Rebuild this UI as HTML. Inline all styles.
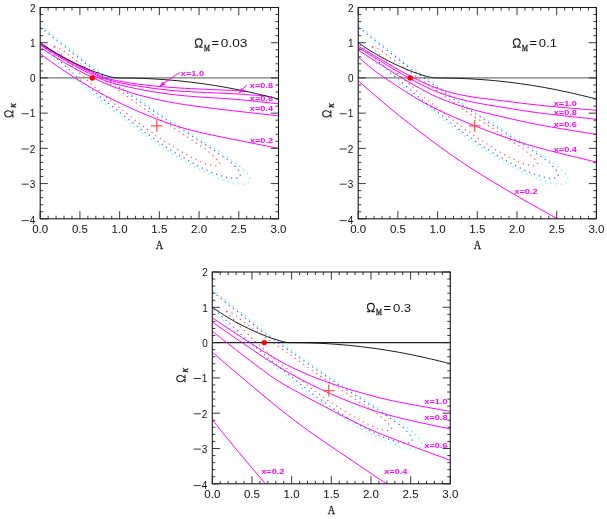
<!DOCTYPE html>
<html><head><meta charset="utf-8"><style>
html,body{margin:0;padding:0;background:#fff}
svg{display:block}
.t{font-family:"Liberation Sans",sans-serif;font-size:10px;fill:#111}
.s{font-family:"Liberation Serif",serif;fill:#111}
.m{font-family:"Liberation Sans",sans-serif;font-size:8.1px;font-weight:bold;fill:#ff00ff}
</style></head><body>
<svg style="will-change:transform" width="607" height="519" viewBox="0 0 607 519">
<rect width="607" height="519" fill="#fff"/>
<clipPath id="c0"><rect x="40.20" y="7.50" width="238.30" height="211.30"/></clipPath>
<g clip-path="url(#c0)">
<line x1="40.20" y1="77.93" x2="278.50" y2="77.93" stroke="#777" stroke-width="1.25"/>
<path d="M40.20 25.00 C41.58 26.10 45.77 29.38 48.50 31.60 C51.23 33.82 53.92 36.13 56.60 38.30 C59.28 40.47 61.88 42.43 64.60 44.60 C67.32 46.77 70.15 49.08 72.90 51.30 C75.65 53.52 78.38 55.77 81.10 57.90 C83.82 60.03 86.45 62.05 89.20 64.10 C91.95 66.15 95.52 68.68 97.60 70.20 C99.68 71.72 96.38 69.47 101.70 73.20 C107.02 76.93 120.23 86.13 129.50 92.60 C138.77 99.07 149.73 106.88 157.30 112.00 C164.87 117.12 169.03 119.55 174.90 123.30 C180.77 127.05 187.40 131.30 192.50 134.50 C197.60 137.70 201.87 140.20 205.50 142.50 C209.13 144.80 211.42 146.37 214.30 148.30 C217.18 150.23 219.97 152.15 222.80 154.10 C225.63 156.05 228.50 157.97 231.30 160.00 C234.10 162.03 237.55 164.65 239.60 166.30 C241.65 167.95 242.30 168.68 243.60 169.90 C244.90 171.12 246.35 172.25 247.40 173.60 C248.45 174.95 249.53 176.72 249.90 178.00 C250.27 179.28 250.02 180.43 249.60 181.30 C249.18 182.17 248.32 182.73 247.40 183.20 C246.48 183.67 245.40 183.95 244.10 184.10 C242.80 184.25 241.27 184.25 239.60 184.10 C237.93 183.95 235.85 183.53 234.10 183.20 C232.35 182.87 230.77 182.58 229.10 182.10 C227.43 181.62 225.70 180.88 224.10 180.30 C222.50 179.72 221.08 179.22 219.50 178.60 C217.92 177.98 216.18 177.30 214.60 176.60 C213.02 175.90 211.62 175.10 210.00 174.40 C208.38 173.70 206.48 173.15 204.90 172.40 C203.32 171.65 202.05 170.73 200.50 169.90 C198.95 169.07 197.17 168.23 195.60 167.40 C194.03 166.57 192.60 165.78 191.10 164.90 C189.60 164.02 188.07 162.98 186.60 162.10 C185.13 161.22 183.77 160.43 182.30 159.60 C180.83 158.77 179.30 157.97 177.80 157.10 C176.30 156.23 174.80 155.37 173.30 154.40 C171.80 153.43 170.27 152.27 168.80 151.30 C167.33 150.33 165.97 149.58 164.50 148.60 C163.03 147.62 161.45 146.37 160.00 145.40 C158.55 144.43 157.20 143.77 155.80 142.80 C154.40 141.83 153.02 140.63 151.60 139.60 C150.18 138.57 148.70 137.57 147.30 136.60 C145.90 135.63 144.58 134.77 143.20 133.80 C141.82 132.83 143.08 134.02 139.00 130.80 C134.92 127.58 125.47 119.93 118.70 114.50 C111.93 109.07 102.42 101.33 98.40 98.20 C94.38 95.07 95.90 96.75 94.60 95.70 C93.30 94.65 91.97 93.15 90.60 91.90 C89.23 90.65 87.73 89.37 86.40 88.20 C85.07 87.03 83.93 86.00 82.60 84.90 C81.27 83.80 79.73 82.72 78.40 81.60 C77.07 80.48 75.85 79.32 74.60 78.20 C73.35 77.08 72.18 76.00 70.90 74.90 C69.62 73.80 68.20 72.77 66.90 71.60 C65.60 70.43 64.98 69.70 63.10 67.90 C61.22 66.10 57.48 62.68 55.60 60.80 C53.72 58.92 53.03 57.85 51.80 56.60 C50.57 55.35 49.45 54.43 48.20 53.30 C46.95 52.17 45.63 50.98 44.30 49.80 C42.97 48.62 40.88 46.80 40.20 46.20" fill="none" stroke="#00ffff" stroke-width="1.15" stroke-dasharray="1.25 3.94" stroke-dashoffset="-0.3" stroke-opacity="0.82"/>
<path d="M40.20 27.20 C41.58 28.27 45.77 31.42 48.50 33.60 C51.23 35.78 53.92 38.18 56.60 40.30 C59.28 42.42 61.88 44.13 64.60 46.30 C67.32 48.47 70.15 51.08 72.90 53.30 C75.65 55.52 79.03 57.93 81.10 59.60 C83.17 61.27 83.25 61.72 85.30 63.30 C87.35 64.88 87.08 64.65 93.40 69.10 C99.72 73.55 113.25 83.05 123.20 90.00 C133.15 96.95 146.70 106.42 153.10 110.80 C159.50 115.18 158.73 114.35 161.60 116.30 C164.47 118.25 167.35 120.58 170.30 122.50 C173.25 124.42 176.37 126.00 179.30 127.80 C182.23 129.60 185.02 131.42 187.90 133.30 C190.78 135.18 193.68 137.22 196.60 139.10 C199.52 140.98 202.47 142.72 205.40 144.60 C208.33 146.48 212.02 148.90 214.20 150.40 C216.38 151.90 217.03 152.57 218.50 153.60 C219.97 154.63 221.52 155.60 223.00 156.60 C224.48 157.60 225.98 158.55 227.40 159.60 C228.82 160.65 230.25 161.78 231.50 162.90 C232.75 164.02 233.77 165.07 234.90 166.30 C236.03 167.53 237.42 168.92 238.30 170.30 C239.18 171.68 240.02 173.42 240.20 174.60 C240.38 175.78 240.37 176.78 239.40 177.40 C238.43 178.02 236.10 178.23 234.40 178.30 C232.70 178.37 230.92 178.08 229.20 177.80 C227.48 177.52 225.77 177.03 224.10 176.60 C222.43 176.17 220.80 175.72 219.20 175.20 C217.60 174.68 216.10 174.13 214.50 173.50 C212.90 172.87 211.22 172.12 209.60 171.40 C207.98 170.68 206.38 169.93 204.80 169.20 C203.22 168.47 201.65 167.80 200.10 167.00 C198.55 166.20 197.05 165.23 195.50 164.40 C193.95 163.57 192.32 162.83 190.80 162.00 C189.28 161.17 187.88 160.25 186.40 159.40 C184.92 158.55 183.40 157.73 181.90 156.90 C180.40 156.07 178.90 155.33 177.40 154.40 C175.90 153.47 174.37 152.27 172.90 151.30 C171.43 150.33 170.07 149.52 168.60 148.60 C167.13 147.68 165.53 146.77 164.10 145.80 C162.67 144.83 161.38 143.77 160.00 142.80 C158.62 141.83 157.22 141.03 155.80 140.00 C154.38 138.97 152.97 137.63 151.50 136.60 C150.03 135.57 148.45 134.77 147.00 133.80 C145.55 132.83 144.18 131.85 142.80 130.80 C141.42 129.75 142.75 130.75 138.70 127.50 C134.65 124.25 125.22 116.68 118.50 111.30 C111.78 105.92 103.05 99.05 98.40 95.20 C93.75 91.35 93.23 90.47 90.60 88.20 C87.97 85.93 84.63 83.27 82.60 81.60 C80.57 79.93 79.73 79.37 78.40 78.20 C77.07 77.03 75.85 75.70 74.60 74.60 C73.35 73.50 72.08 72.67 70.90 71.60 C69.72 70.53 68.70 69.37 67.50 68.20 C66.30 67.03 65.00 65.82 63.70 64.60 C62.40 63.38 61.00 62.12 59.70 60.90 C58.40 59.68 57.18 58.45 55.90 57.30 C54.62 56.15 53.32 55.18 52.00 54.00 C50.68 52.82 49.30 51.40 48.00 50.20 C46.70 49.00 45.50 47.87 44.20 46.80 C42.90 45.73 40.87 44.30 40.20 43.80" fill="none" stroke="#2222ff" stroke-width="1.15" stroke-dasharray="1.25 3.94" stroke-dashoffset="-0.3" stroke-opacity="0.82"/>
<path d="M54.30 46.30 C55.08 46.63 57.47 47.55 59.00 48.30 C60.53 49.05 62.07 49.83 63.50 50.80 C64.93 51.77 66.22 53.00 67.60 54.10 C68.98 55.20 70.42 56.37 71.80 57.40 C73.18 58.43 74.47 59.32 75.90 60.30 C77.33 61.28 78.95 62.25 80.40 63.30 C81.85 64.35 78.58 62.32 84.60 66.60 C90.62 70.88 105.88 81.55 116.50 89.00 C127.12 96.45 141.55 106.63 148.30 111.30 C155.05 115.97 154.12 115.13 157.00 117.00 C159.88 118.87 163.43 121.08 165.60 122.50 C167.77 123.92 168.55 124.53 170.00 125.50 C171.45 126.47 172.87 127.33 174.30 128.30 C175.73 129.27 177.10 130.27 178.60 131.30 C180.10 132.33 181.83 133.53 183.30 134.50 C184.77 135.47 185.97 136.18 187.40 137.10 C188.83 138.02 190.45 139.02 191.90 140.00 C193.35 140.98 194.65 142.03 196.10 143.00 C197.55 143.97 199.17 144.87 200.60 145.80 C202.03 146.73 203.32 147.58 204.70 148.60 C206.08 149.62 207.57 150.78 208.90 151.90 C210.23 153.02 211.43 154.15 212.70 155.30 C213.97 156.45 215.40 157.68 216.50 158.80 C217.60 159.92 218.83 161.03 219.30 162.00 C219.77 162.97 219.98 163.98 219.30 164.60 C218.62 165.22 216.72 165.65 215.20 165.70 C213.68 165.75 211.87 165.25 210.20 164.90 C208.53 164.55 206.83 164.15 205.20 163.60 C203.57 163.05 202.00 162.35 200.40 161.60 C198.80 160.85 197.22 159.88 195.60 159.10 C193.98 158.32 192.23 157.68 190.70 156.90 C189.17 156.12 187.87 155.23 186.40 154.40 C184.93 153.57 183.40 152.73 181.90 151.90 C180.40 151.07 178.90 150.33 177.40 149.40 C175.90 148.47 174.37 147.23 172.90 146.30 C171.43 145.37 170.03 144.67 168.60 143.80 C167.17 142.93 165.73 142.02 164.30 141.10 C162.87 140.18 161.45 139.23 160.00 138.30 C158.55 137.37 157.00 136.53 155.60 135.50 C154.20 134.47 152.98 133.10 151.60 132.10 C150.22 131.10 148.77 130.50 147.30 129.50 C145.83 128.50 144.23 127.18 142.80 126.10 C141.37 125.02 142.12 125.68 138.70 123.00 C135.28 120.32 127.77 114.35 122.30 110.00 C116.83 105.65 109.88 100.17 105.90 96.90 C101.92 93.63 100.28 92.07 98.40 90.40 C96.52 88.73 95.90 88.10 94.60 86.90 C93.30 85.70 91.92 84.37 90.60 83.20 C89.28 82.03 87.98 81.00 86.70 79.90 C85.42 78.80 84.13 77.77 82.90 76.60 C81.67 75.43 81.22 74.85 79.30 72.90 C77.38 70.95 73.90 67.45 71.40 64.90 C68.90 62.35 66.65 60.02 64.30 57.60 C61.95 55.18 58.92 52.03 57.30 50.40 C55.68 48.77 55.10 48.48 54.60 47.80 C54.10 47.12 54.35 46.55 54.30 46.30" fill="none" stroke="#ff2222" stroke-width="1.15" stroke-dasharray="1.25 3.94" stroke-dashoffset="-0.3" stroke-opacity="0.82"/>
<path d="M40.20 43.77 C42.85 45.36 50.39 50.02 56.09 53.28 C61.78 56.54 68.40 60.24 74.36 63.32 C80.31 66.40 85.89 69.14 91.83 71.77 C97.78 74.41 102.05 77.04 110.02 79.13 C117.99 81.23 129.66 82.98 139.65 84.34 C149.65 85.71 160.09 86.56 169.99 87.34 C179.90 88.12 188.26 88.49 199.07 89.03 C209.87 89.56 226.87 90.13 234.81 90.54 C242.75 90.95 244.74 91.33 246.73 91.49" fill="none" stroke="#ff00ff" stroke-width="1.0"/>
<path d="M40.20 44.20 C42.85 45.83 50.39 50.65 56.09 53.99 C61.78 57.32 68.40 61.06 74.36 64.20 C80.31 67.34 85.89 70.13 91.83 72.83 C97.78 75.53 102.05 78.14 110.02 80.40 C117.99 82.65 129.66 84.70 139.65 86.35 C149.65 88.00 160.09 89.32 169.99 90.29 C179.90 91.27 188.26 91.60 199.07 92.20 C209.87 92.79 223.56 93.22 234.81 93.85 C246.06 94.49 261.29 95.64 266.59 96.00" fill="none" stroke="#ff00ff" stroke-width="1.0"/>
<path d="M40.20 45.01 C42.85 46.68 50.39 51.61 56.09 55.04 C61.78 58.48 68.40 62.35 74.36 65.61 C80.31 68.87 85.89 71.79 91.83 74.59 C97.78 77.38 102.05 79.92 110.02 82.37 C117.99 84.82 129.66 87.33 139.65 89.31 C149.65 91.29 160.09 92.96 169.99 94.24 C179.90 95.51 188.26 96.12 199.07 96.95 C209.87 97.78 221.57 98.10 234.81 99.24 C248.05 100.38 271.22 103.03 278.50 103.78" fill="none" stroke="#ff00ff" stroke-width="1.0"/>
<path d="M40.20 47.29 C42.85 49.00 50.39 54.02 56.09 57.51 C61.78 61.00 68.40 64.96 74.36 68.25 C80.31 71.54 85.89 74.38 91.83 77.23 C97.78 80.08 102.05 82.33 110.02 85.33 C117.99 88.33 129.66 92.42 139.65 95.22 C149.65 98.02 160.09 100.23 169.99 102.13 C179.90 104.03 188.66 105.21 199.07 106.63 C209.47 108.06 219.19 109.15 232.43 110.68 C245.67 112.22 270.82 114.97 278.50 115.83" fill="none" stroke="#ff00ff" stroke-width="1.0"/>
<path d="M40.20 53.81 C42.85 55.72 50.39 61.29 56.09 65.26 C61.78 69.22 68.40 73.77 74.36 77.58 C80.31 81.40 85.89 84.71 91.83 88.15 C97.78 91.58 102.05 94.20 110.02 98.18 C117.99 102.16 129.66 107.74 139.65 112.02 C149.65 116.31 160.09 120.53 169.99 123.89 C179.90 127.25 187.73 129.44 199.07 132.17 C210.40 134.90 224.75 137.57 237.99 140.27 C251.23 142.97 271.75 147.02 278.50 148.37" fill="none" stroke="#ff00ff" stroke-width="1.0"/>
<path d="M40.20 42.72 C41.52 43.61 45.50 46.35 48.14 48.07 C50.79 49.79 53.13 51.29 56.09 53.04 C59.04 54.78 61.89 56.48 65.86 58.56 C69.83 60.65 75.72 63.57 79.92 65.54 C84.11 67.50 87.73 69.01 91.04 70.36 C94.35 71.71 96.99 72.68 99.78 73.64 C102.56 74.59 105.47 75.46 107.72 76.10 C109.97 76.75 111.69 77.21 113.28 77.51 C114.87 77.82 115.53 77.85 117.25 77.93 C118.97 78.02 120.56 77.96 123.61 78.00 C126.65 78.05 130.75 78.07 135.52 78.22 C140.29 78.36 145.32 78.44 152.20 78.85 C159.09 79.25 168.48 79.85 176.83 80.65 C185.17 81.44 193.90 82.49 202.24 83.64 C210.58 84.79 218.53 86.03 226.87 87.55 C235.21 89.06 243.68 90.82 252.29 92.72 C260.89 94.63 274.13 97.92 278.50 98.96" fill="none" stroke="#111" stroke-width="0.95"/>
</g>
<circle cx="92.23" cy="77.93" r="2.7" fill="#ff0000"/>
<path d="M151.01 125.83H162.61M156.81 120.03V131.63" stroke="#ff5050" stroke-width="1.25" fill="none"/>
<path d="M40.20 218.80V211.20M40.20 7.50V15.10M48.14 218.80V215.80M48.14 7.50V10.50M56.09 218.80V215.80M56.09 7.50V10.50M64.03 218.80V215.80M64.03 7.50V10.50M71.97 218.80V215.80M71.97 7.50V10.50M79.92 218.80V211.20M79.92 7.50V15.10M87.86 218.80V215.80M87.86 7.50V10.50M95.80 218.80V215.80M95.80 7.50V10.50M103.75 218.80V215.80M103.75 7.50V10.50M111.69 218.80V215.80M111.69 7.50V10.50M119.63 218.80V211.20M119.63 7.50V15.10M127.58 218.80V215.80M127.58 7.50V10.50M135.52 218.80V215.80M135.52 7.50V10.50M143.46 218.80V215.80M143.46 7.50V10.50M151.41 218.80V215.80M151.41 7.50V10.50M159.35 218.80V211.20M159.35 7.50V15.10M167.29 218.80V215.80M167.29 7.50V10.50M175.24 218.80V215.80M175.24 7.50V10.50M183.18 218.80V215.80M183.18 7.50V10.50M191.12 218.80V215.80M191.12 7.50V10.50M199.07 218.80V211.20M199.07 7.50V15.10M207.01 218.80V215.80M207.01 7.50V10.50M214.95 218.80V215.80M214.95 7.50V10.50M222.90 218.80V215.80M222.90 7.50V10.50M230.84 218.80V215.80M230.84 7.50V10.50M238.78 218.80V211.20M238.78 7.50V15.10M246.73 218.80V215.80M246.73 7.50V10.50M254.67 218.80V215.80M254.67 7.50V10.50M262.61 218.80V215.80M262.61 7.50V10.50M270.56 218.80V215.80M270.56 7.50V10.50M278.50 218.80V211.20M278.50 7.50V15.10M40.20 218.80H47.80M278.50 218.80H270.90M40.20 211.76H43.20M278.50 211.76H275.50M40.20 204.71H43.20M278.50 204.71H275.50M40.20 197.67H43.20M278.50 197.67H275.50M40.20 190.63H43.20M278.50 190.63H275.50M40.20 183.58H47.80M278.50 183.58H270.90M40.20 176.54H43.20M278.50 176.54H275.50M40.20 169.50H43.20M278.50 169.50H275.50M40.20 162.45H43.20M278.50 162.45H275.50M40.20 155.41H43.20M278.50 155.41H275.50M40.20 148.37H47.80M278.50 148.37H270.90M40.20 141.32H43.20M278.50 141.32H275.50M40.20 134.28H43.20M278.50 134.28H275.50M40.20 127.24H43.20M278.50 127.24H275.50M40.20 120.19H43.20M278.50 120.19H275.50M40.20 113.15H47.80M278.50 113.15H270.90M40.20 106.11H43.20M278.50 106.11H275.50M40.20 99.06H43.20M278.50 99.06H275.50M40.20 92.02H43.20M278.50 92.02H275.50M40.20 84.98H43.20M278.50 84.98H275.50M40.20 77.93H47.80M278.50 77.93H270.90M40.20 70.89H43.20M278.50 70.89H275.50M40.20 63.85H43.20M278.50 63.85H275.50M40.20 56.80H43.20M278.50 56.80H275.50M40.20 49.76H43.20M278.50 49.76H275.50M40.20 42.72H47.80M278.50 42.72H270.90M40.20 35.67H43.20M278.50 35.67H275.50M40.20 28.63H43.20M278.50 28.63H275.50M40.20 21.59H43.20M278.50 21.59H275.50M40.20 14.54H43.20M278.50 14.54H275.50M40.20 7.50H47.80M278.50 7.50H270.90" stroke="#222" stroke-width="0.9" fill="none"/>
<rect x="40.20" y="7.50" width="238.30" height="211.30" fill="none" stroke="#1a1a1a" stroke-width="1.1"/>
<text x="40.20" y="232.70" text-anchor="middle" class="t" textLength="16" lengthAdjust="spacingAndGlyphs">0.0</text>
<text x="79.92" y="232.70" text-anchor="middle" class="t" textLength="16" lengthAdjust="spacingAndGlyphs">0.5</text>
<text x="119.63" y="232.70" text-anchor="middle" class="t" textLength="16" lengthAdjust="spacingAndGlyphs">1.0</text>
<text x="159.35" y="232.70" text-anchor="middle" class="t" textLength="16" lengthAdjust="spacingAndGlyphs">1.5</text>
<text x="199.07" y="232.70" text-anchor="middle" class="t" textLength="16" lengthAdjust="spacingAndGlyphs">2.0</text>
<text x="238.78" y="232.70" text-anchor="middle" class="t" textLength="16" lengthAdjust="spacingAndGlyphs">2.5</text>
<text x="278.50" y="232.70" text-anchor="middle" class="t" textLength="16" lengthAdjust="spacingAndGlyphs">3.0</text>
<text x="35.20" y="224.30" text-anchor="end" class="t">4</text>
<path d="M21.60 220.60H28.80" stroke="#222" stroke-width="0.9"/>
<text x="35.20" y="187.88" text-anchor="end" class="t">3</text>
<path d="M21.60 184.18H28.80" stroke="#222" stroke-width="0.9"/>
<text x="35.20" y="152.67" text-anchor="end" class="t">2</text>
<path d="M21.60 148.97H28.80" stroke="#222" stroke-width="0.9"/>
<text x="35.20" y="117.45" text-anchor="end" class="t">1</text>
<path d="M21.60 113.75H28.80" stroke="#222" stroke-width="0.9"/>
<text x="35.60" y="82.23" text-anchor="end" class="t">0</text>
<text x="35.60" y="47.02" text-anchor="end" class="t">1</text>
<text x="35.60" y="11.80" text-anchor="end" class="t">2</text>
<text x="159.55" y="248.60" text-anchor="middle" class="s" font-size="12.6" textLength="7.4" lengthAdjust="spacingAndGlyphs" stroke="#1a1a1a" stroke-width="0.3">A</text>
<g transform="translate(13.20 117.55) rotate(-90)"><path d="M0.30 -0.46L0.30 -0.30L2.82 -0.30L2.82 -1.04C1.18 -2.02 0.57 -3.42 0.57 -4.97C0.57 -7.11 1.93 -8.50 3.70 -8.50C5.47 -8.50 6.83 -7.11 6.83 -4.97C6.83 -3.42 6.22 -2.02 4.58 -1.04L4.58 -0.30L7.10 -0.30L7.10 -0.46" fill="none" stroke="#1a1a1a" stroke-width="1.15" stroke-linejoin="round"/><text x="9.9" y="3.0" class="s" font-size="9.5" font-style="italic" stroke="#1a1a1a" stroke-width="0.3">κ</text></g>
<path d="M195.10 46.94L195.10 47.10L197.80 47.10L197.80 46.36C196.05 45.38 195.39 43.98 195.39 42.43C195.39 40.29 196.85 38.90 198.75 38.90C200.65 38.90 202.11 40.29 202.11 42.43C202.11 43.98 201.45 45.38 199.70 46.36L199.70 47.10L202.40 47.10L202.40 46.94" fill="none" stroke="#1a1a1a" stroke-width="1.15" stroke-linejoin="round"/>
<text x="204.00" y="50.60" class="s" font-size="9.2" textLength="5.9" lengthAdjust="spacingAndGlyphs" stroke="#1a1a1a" stroke-width="0.35">M</text>
<text x="211.50" y="47.40" class="t" font-size="12.2" textLength="7.6" lengthAdjust="spacingAndGlyphs">=</text>
<text x="220.80" y="47.40" class="t" font-size="12.2" textLength="26.6" lengthAdjust="spacingAndGlyphs">0.03</text>
<text x="180.80" y="75.50" class="m" textLength="23.2" lengthAdjust="spacingAndGlyphs">x=1.0</text>
<text x="249.80" y="88.30" class="m" textLength="23.2" lengthAdjust="spacingAndGlyphs">x=0.8</text>
<text x="249.80" y="101.20" class="m" textLength="23.2" lengthAdjust="spacingAndGlyphs">x=0.6</text>
<text x="249.80" y="111.00" class="m" textLength="23.2" lengthAdjust="spacingAndGlyphs">x=0.4</text>
<text x="249.90" y="143.00" class="m" textLength="23.2" lengthAdjust="spacingAndGlyphs">x=0.2</text>
<path d="M179.50 72.50L159.50 86.30" stroke="#ff00ff" stroke-width="1"/>
<path d="M159.50 86.30L162.89 81.53L165.16 84.82Z" fill="#ff00ff"/>
<path d="M246.80 84.90L238.90 93.30" stroke="#ff00ff" stroke-width="1"/>
<path d="M238.90 93.30L241.21 87.92L244.12 90.66Z" fill="#ff00ff"/>
<clipPath id="c1"><rect x="358.20" y="7.50" width="238.20" height="211.30"/></clipPath>
<g clip-path="url(#c1)">
<line x1="358.20" y1="77.93" x2="596.40" y2="77.93" stroke="#777" stroke-width="1.25"/>
<path d="M358.20 25.00 C359.58 26.10 363.76 29.38 366.50 31.60 C369.23 33.82 371.91 36.13 374.59 38.30 C377.28 40.47 379.87 42.43 382.59 44.60 C385.31 46.77 388.14 49.08 390.89 51.30 C393.64 53.52 396.37 55.77 399.08 57.90 C401.80 60.03 404.43 62.05 407.18 64.10 C409.93 66.15 413.49 68.68 415.58 70.20 C417.66 71.72 414.36 69.47 419.67 73.20 C424.99 76.93 438.20 86.13 447.46 92.60 C456.73 99.07 467.69 106.88 475.25 112.00 C482.81 117.12 486.98 119.55 492.84 123.30 C498.71 127.05 505.34 131.30 510.44 134.50 C515.53 137.70 519.80 140.20 523.43 142.50 C527.06 144.80 529.34 146.37 532.23 148.30 C535.11 150.23 537.89 152.15 540.72 154.10 C543.56 156.05 546.42 157.97 549.22 160.00 C552.02 162.03 555.47 164.65 557.52 166.30 C559.57 167.95 560.22 168.68 561.51 169.90 C562.81 171.12 564.26 172.25 565.31 173.60 C566.36 174.95 567.45 176.72 567.81 178.00 C568.18 179.28 567.93 180.43 567.51 181.30 C567.10 182.17 566.23 182.73 565.31 183.20 C564.40 183.67 563.31 183.95 562.01 184.10 C560.71 184.25 559.18 184.25 557.52 184.10 C555.85 183.95 553.77 183.53 552.02 183.20 C550.27 182.87 548.69 182.58 547.02 182.10 C545.35 181.62 543.62 180.88 542.02 180.30 C540.42 179.72 539.01 179.22 537.42 178.60 C535.84 177.98 534.11 177.30 532.53 176.60 C530.94 175.90 529.54 175.10 527.93 174.40 C526.31 173.70 524.41 173.15 522.83 172.40 C521.25 171.65 519.98 170.73 518.43 169.90 C516.88 169.07 515.10 168.23 513.53 167.40 C511.97 166.57 510.54 165.78 509.04 164.90 C507.54 164.02 506.00 162.98 504.54 162.10 C503.07 161.22 501.71 160.43 500.24 159.60 C498.77 158.77 497.24 157.97 495.74 157.10 C494.24 156.23 492.74 155.37 491.24 154.40 C489.74 153.43 488.21 152.27 486.75 151.30 C485.28 150.33 483.91 149.58 482.45 148.60 C480.98 147.62 479.40 146.37 477.95 145.40 C476.50 144.43 475.15 143.77 473.75 142.80 C472.35 141.83 470.97 140.63 469.55 139.60 C468.14 138.57 466.65 137.57 465.26 136.60 C463.86 135.63 462.54 134.77 461.16 133.80 C459.77 132.83 461.04 134.02 456.96 130.80 C452.88 127.58 443.43 119.93 436.67 114.50 C429.90 109.07 420.39 101.33 416.38 98.20 C412.36 95.07 413.88 96.75 412.58 95.70 C411.28 94.65 409.94 93.15 408.58 91.90 C407.21 90.65 405.71 89.37 404.38 88.20 C403.05 87.03 401.91 86.00 400.58 84.90 C399.25 83.80 397.72 82.72 396.38 81.60 C395.05 80.48 393.84 79.32 392.59 78.20 C391.34 77.08 390.17 76.00 388.89 74.90 C387.60 73.80 386.19 72.77 384.89 71.60 C383.59 70.43 382.97 69.70 381.09 67.90 C379.21 66.10 375.48 62.68 373.59 60.80 C371.71 58.92 371.03 57.85 369.80 56.60 C368.56 55.35 367.45 54.43 366.20 53.30 C364.95 52.17 363.63 50.98 362.30 49.80 C360.97 48.62 358.88 46.80 358.20 46.20" fill="none" stroke="#00ffff" stroke-width="1.15" stroke-dasharray="1.25 3.94" stroke-dashoffset="-0.3" stroke-opacity="0.82"/>
<path d="M358.20 27.20 C359.58 28.27 363.76 31.42 366.50 33.60 C369.23 35.78 371.91 38.18 374.59 40.30 C377.28 42.42 379.87 44.13 382.59 46.30 C385.31 48.47 388.14 51.08 390.89 53.30 C393.64 55.52 397.02 57.93 399.08 59.60 C401.15 61.27 401.23 61.72 403.28 63.30 C405.33 64.88 405.06 64.65 411.38 69.10 C417.69 73.55 431.22 83.05 441.17 90.00 C451.11 96.95 464.66 106.42 471.05 110.80 C477.45 115.18 476.68 114.35 479.55 116.30 C482.41 118.25 485.30 120.58 488.25 122.50 C491.19 124.42 494.31 126.00 497.24 127.80 C500.17 129.60 502.96 131.42 505.84 133.30 C508.72 135.18 511.62 137.22 514.53 139.10 C517.45 140.98 520.40 142.72 523.33 144.60 C526.26 146.48 529.94 148.90 532.13 150.40 C534.31 151.90 534.96 152.57 536.43 153.60 C537.89 154.63 539.44 155.60 540.92 156.60 C542.41 157.60 543.91 158.55 545.32 159.60 C546.74 160.65 548.17 161.78 549.42 162.90 C550.67 164.02 551.69 165.07 552.82 166.30 C553.95 167.53 555.33 168.92 556.22 170.30 C557.10 171.68 557.93 173.42 558.12 174.60 C558.30 175.78 558.28 176.78 557.32 177.40 C556.35 178.02 554.02 178.23 552.32 178.30 C550.62 178.37 548.84 178.08 547.12 177.80 C545.40 177.52 543.69 177.03 542.02 176.60 C540.36 176.17 538.72 175.72 537.12 175.20 C535.53 174.68 534.03 174.13 532.43 173.50 C530.83 172.87 529.14 172.12 527.53 171.40 C525.91 170.68 524.31 169.93 522.73 169.20 C521.15 168.47 519.58 167.80 518.03 167.00 C516.48 166.20 514.98 165.23 513.43 164.40 C511.89 163.57 510.25 162.83 508.74 162.00 C507.22 161.17 505.82 160.25 504.34 159.40 C502.86 158.55 501.34 157.73 499.84 156.90 C498.34 156.07 496.84 155.33 495.34 154.40 C493.84 153.47 492.31 152.27 490.84 151.30 C489.38 150.33 488.01 149.52 486.55 148.60 C485.08 147.68 483.48 146.77 482.05 145.80 C480.62 144.83 479.33 143.77 477.95 142.80 C476.57 141.83 475.17 141.03 473.75 140.00 C472.34 138.97 470.92 137.63 469.45 136.60 C467.99 135.57 466.40 134.77 464.96 133.80 C463.51 132.83 462.14 131.85 460.76 130.80 C459.37 129.75 460.71 130.75 456.66 127.50 C452.61 124.25 443.18 116.68 436.47 111.30 C429.75 105.92 421.02 99.05 416.38 95.20 C411.73 91.35 411.21 90.47 408.58 88.20 C405.95 85.93 402.61 83.27 400.58 81.60 C398.55 79.93 397.72 79.37 396.38 78.20 C395.05 77.03 393.84 75.70 392.59 74.60 C391.34 73.50 390.07 72.67 388.89 71.60 C387.70 70.53 386.69 69.37 385.49 68.20 C384.29 67.03 382.99 65.82 381.69 64.60 C380.39 63.38 378.99 62.12 377.69 60.90 C376.39 59.68 375.18 58.45 373.89 57.30 C372.61 56.15 371.31 55.18 370.00 54.00 C368.68 52.82 367.30 51.40 366.00 50.20 C364.70 49.00 363.50 47.87 362.20 46.80 C360.90 45.73 358.87 44.30 358.20 43.80" fill="none" stroke="#2222ff" stroke-width="1.15" stroke-dasharray="1.25 3.94" stroke-dashoffset="-0.3" stroke-opacity="0.82"/>
<path d="M372.29 46.30 C373.08 46.63 375.46 47.55 376.99 48.30 C378.52 49.05 380.06 49.83 381.49 50.80 C382.92 51.77 384.21 53.00 385.59 54.10 C386.97 55.20 388.40 56.37 389.79 57.40 C391.17 58.43 392.45 59.32 393.89 60.30 C395.32 61.28 396.93 62.25 398.38 63.30 C399.83 64.35 396.57 62.32 402.58 66.60 C408.60 70.88 423.86 81.55 434.47 89.00 C445.08 96.45 459.51 106.63 466.25 111.30 C473.00 115.97 472.07 115.13 474.95 117.00 C477.83 118.87 481.38 121.08 483.55 122.50 C485.71 123.92 486.50 124.53 487.95 125.50 C489.39 126.47 490.81 127.33 492.24 128.30 C493.68 129.27 495.04 130.27 496.54 131.30 C498.04 132.33 499.77 133.53 501.24 134.50 C502.71 135.47 503.91 136.18 505.34 137.10 C506.77 138.02 508.39 139.02 509.84 140.00 C511.29 140.98 512.59 142.03 514.03 143.00 C515.48 143.97 517.10 144.87 518.53 145.80 C519.97 146.73 521.25 147.58 522.63 148.60 C524.01 149.62 525.50 150.78 526.83 151.90 C528.16 153.02 529.36 154.15 530.63 155.30 C531.89 156.45 533.33 157.68 534.43 158.80 C535.53 159.92 536.76 161.03 537.22 162.00 C537.69 162.97 537.91 163.98 537.22 164.60 C536.54 165.22 534.64 165.65 533.13 165.70 C531.61 165.75 529.79 165.25 528.13 164.90 C526.46 164.55 524.76 164.15 523.13 163.60 C521.50 163.05 519.93 162.35 518.33 161.60 C516.73 160.85 515.15 159.88 513.53 159.10 C511.92 158.32 510.17 157.68 508.64 156.90 C507.10 156.12 505.80 155.23 504.34 154.40 C502.87 153.57 501.34 152.73 499.84 151.90 C498.34 151.07 496.84 150.33 495.34 149.40 C493.84 148.47 492.31 147.23 490.84 146.30 C489.38 145.37 487.98 144.67 486.55 143.80 C485.11 142.93 483.68 142.02 482.25 141.10 C480.82 140.18 479.40 139.23 477.95 138.30 C476.50 137.37 474.95 136.53 473.55 135.50 C472.15 134.47 470.94 133.10 469.55 132.10 C468.17 131.10 466.72 130.50 465.26 129.50 C463.79 128.50 462.19 127.18 460.76 126.10 C459.32 125.02 460.07 125.68 456.66 123.00 C453.24 120.32 445.73 114.35 440.27 110.00 C434.80 105.65 427.85 100.17 423.87 96.90 C419.89 93.63 418.26 92.07 416.38 90.40 C414.49 88.73 413.88 88.10 412.58 86.90 C411.28 85.70 409.89 84.37 408.58 83.20 C407.26 82.03 405.96 81.00 404.68 79.90 C403.40 78.80 402.11 77.77 400.88 76.60 C399.65 75.43 399.20 74.85 397.28 72.90 C395.37 70.95 391.89 67.45 389.39 64.90 C386.89 62.35 384.64 60.02 382.29 57.60 C379.94 55.18 376.91 52.03 375.29 50.40 C373.68 48.77 373.09 48.48 372.59 47.80 C372.09 47.12 372.34 46.55 372.29 46.30" fill="none" stroke="#ff2222" stroke-width="1.15" stroke-dasharray="1.25 3.94" stroke-dashoffset="-0.3" stroke-opacity="0.82"/>
<path d="M358.20 46.24 C371.43 53.28 411.13 79.11 437.60 88.50 C464.07 97.89 490.53 98.95 517.00 102.59 C543.47 106.22 583.17 109.04 596.40 110.33" fill="none" stroke="#ff00ff" stroke-width="1.0"/>
<path d="M358.20 47.65 C371.43 55.04 411.13 81.69 437.60 92.02 C464.07 102.35 490.53 105.08 517.00 109.63 C543.47 114.18 583.17 117.70 596.40 119.31" fill="none" stroke="#ff00ff" stroke-width="1.0"/>
<path d="M358.20 50.29 C371.43 58.12 411.13 85.65 437.60 97.30 C464.07 108.95 490.53 114.00 517.00 120.19 C543.47 126.39 583.17 132.08 596.40 134.46" fill="none" stroke="#ff00ff" stroke-width="1.0"/>
<path d="M358.20 57.16 C362.63 60.62 371.57 69.19 384.80 77.93 C398.03 86.68 415.57 99.06 437.60 109.63 C459.63 120.19 490.53 132.58 517.00 141.32 C543.47 150.07 583.17 158.64 596.40 162.10" fill="none" stroke="#ff00ff" stroke-width="1.0"/>
<path d="M358.20 80.79 C365.12 86.66 383.59 103.25 399.73 116.04 C415.86 128.83 437.23 145.23 454.99 157.52 C472.75 169.81 489.20 179.57 506.28 189.78 C523.37 199.99 542.47 210.44 557.49 218.80 C572.51 227.16 589.92 236.41 596.40 239.93" fill="none" stroke="#ff00ff" stroke-width="1.0"/>
<path d="M358.20 42.72 C359.52 43.61 363.49 46.35 366.14 48.07 C368.79 49.79 371.13 51.29 374.08 53.04 C377.03 54.78 379.88 56.48 383.85 58.56 C387.82 60.65 393.71 63.57 397.90 65.54 C402.09 67.50 405.71 69.01 409.02 70.36 C412.32 71.71 414.97 72.68 417.75 73.64 C420.53 74.59 423.44 75.46 425.69 76.10 C427.94 76.75 429.66 77.21 431.25 77.51 C432.84 77.82 433.50 77.85 435.22 77.93 C436.94 78.02 438.53 77.96 441.57 78.00 C444.61 78.05 448.72 78.07 453.48 78.22 C458.24 78.36 463.27 78.44 470.15 78.85 C477.04 79.25 486.43 79.85 494.77 80.65 C503.10 81.44 511.84 82.49 520.18 83.64 C528.51 84.79 536.45 86.03 544.79 87.55 C553.13 89.06 561.60 90.82 570.20 92.72 C578.80 94.63 592.03 97.92 596.40 98.96" fill="none" stroke="#111" stroke-width="0.95"/>
</g>
<circle cx="410.21" cy="77.93" r="2.7" fill="#ff0000"/>
<path d="M468.96 125.83H480.56M474.76 120.03V131.63" stroke="#ff5050" stroke-width="1.25" fill="none"/>
<path d="M358.20 218.80V211.20M358.20 7.50V15.10M366.14 218.80V215.80M366.14 7.50V10.50M374.08 218.80V215.80M374.08 7.50V10.50M382.02 218.80V215.80M382.02 7.50V10.50M389.96 218.80V215.80M389.96 7.50V10.50M397.90 218.80V211.20M397.90 7.50V15.10M405.84 218.80V215.80M405.84 7.50V10.50M413.78 218.80V215.80M413.78 7.50V10.50M421.72 218.80V215.80M421.72 7.50V10.50M429.66 218.80V215.80M429.66 7.50V10.50M437.60 218.80V211.20M437.60 7.50V15.10M445.54 218.80V215.80M445.54 7.50V10.50M453.48 218.80V215.80M453.48 7.50V10.50M461.42 218.80V215.80M461.42 7.50V10.50M469.36 218.80V215.80M469.36 7.50V10.50M477.30 218.80V211.20M477.30 7.50V15.10M485.24 218.80V215.80M485.24 7.50V10.50M493.18 218.80V215.80M493.18 7.50V10.50M501.12 218.80V215.80M501.12 7.50V10.50M509.06 218.80V215.80M509.06 7.50V10.50M517.00 218.80V211.20M517.00 7.50V15.10M524.94 218.80V215.80M524.94 7.50V10.50M532.88 218.80V215.80M532.88 7.50V10.50M540.82 218.80V215.80M540.82 7.50V10.50M548.76 218.80V215.80M548.76 7.50V10.50M556.70 218.80V211.20M556.70 7.50V15.10M564.64 218.80V215.80M564.64 7.50V10.50M572.58 218.80V215.80M572.58 7.50V10.50M580.52 218.80V215.80M580.52 7.50V10.50M588.46 218.80V215.80M588.46 7.50V10.50M596.40 218.80V211.20M596.40 7.50V15.10M358.20 218.80H365.80M596.40 218.80H588.80M358.20 211.76H361.20M596.40 211.76H593.40M358.20 204.71H361.20M596.40 204.71H593.40M358.20 197.67H361.20M596.40 197.67H593.40M358.20 190.63H361.20M596.40 190.63H593.40M358.20 183.58H365.80M596.40 183.58H588.80M358.20 176.54H361.20M596.40 176.54H593.40M358.20 169.50H361.20M596.40 169.50H593.40M358.20 162.45H361.20M596.40 162.45H593.40M358.20 155.41H361.20M596.40 155.41H593.40M358.20 148.37H365.80M596.40 148.37H588.80M358.20 141.32H361.20M596.40 141.32H593.40M358.20 134.28H361.20M596.40 134.28H593.40M358.20 127.24H361.20M596.40 127.24H593.40M358.20 120.19H361.20M596.40 120.19H593.40M358.20 113.15H365.80M596.40 113.15H588.80M358.20 106.11H361.20M596.40 106.11H593.40M358.20 99.06H361.20M596.40 99.06H593.40M358.20 92.02H361.20M596.40 92.02H593.40M358.20 84.98H361.20M596.40 84.98H593.40M358.20 77.93H365.80M596.40 77.93H588.80M358.20 70.89H361.20M596.40 70.89H593.40M358.20 63.85H361.20M596.40 63.85H593.40M358.20 56.80H361.20M596.40 56.80H593.40M358.20 49.76H361.20M596.40 49.76H593.40M358.20 42.72H365.80M596.40 42.72H588.80M358.20 35.67H361.20M596.40 35.67H593.40M358.20 28.63H361.20M596.40 28.63H593.40M358.20 21.59H361.20M596.40 21.59H593.40M358.20 14.54H361.20M596.40 14.54H593.40M358.20 7.50H365.80M596.40 7.50H588.80" stroke="#222" stroke-width="0.9" fill="none"/>
<rect x="358.20" y="7.50" width="238.20" height="211.30" fill="none" stroke="#1a1a1a" stroke-width="1.1"/>
<text x="358.20" y="232.70" text-anchor="middle" class="t" textLength="16" lengthAdjust="spacingAndGlyphs">0.0</text>
<text x="397.90" y="232.70" text-anchor="middle" class="t" textLength="16" lengthAdjust="spacingAndGlyphs">0.5</text>
<text x="437.60" y="232.70" text-anchor="middle" class="t" textLength="16" lengthAdjust="spacingAndGlyphs">1.0</text>
<text x="477.30" y="232.70" text-anchor="middle" class="t" textLength="16" lengthAdjust="spacingAndGlyphs">1.5</text>
<text x="517.00" y="232.70" text-anchor="middle" class="t" textLength="16" lengthAdjust="spacingAndGlyphs">2.0</text>
<text x="556.70" y="232.70" text-anchor="middle" class="t" textLength="16" lengthAdjust="spacingAndGlyphs">2.5</text>
<text x="596.40" y="232.70" text-anchor="middle" class="t" textLength="16" lengthAdjust="spacingAndGlyphs">3.0</text>
<text x="353.20" y="224.30" text-anchor="end" class="t">4</text>
<path d="M339.60 220.60H346.80" stroke="#222" stroke-width="0.9"/>
<text x="353.20" y="187.88" text-anchor="end" class="t">3</text>
<path d="M339.60 184.18H346.80" stroke="#222" stroke-width="0.9"/>
<text x="353.20" y="152.67" text-anchor="end" class="t">2</text>
<path d="M339.60 148.97H346.80" stroke="#222" stroke-width="0.9"/>
<text x="353.20" y="117.45" text-anchor="end" class="t">1</text>
<path d="M339.60 113.75H346.80" stroke="#222" stroke-width="0.9"/>
<text x="353.60" y="82.23" text-anchor="end" class="t">0</text>
<text x="353.60" y="47.02" text-anchor="end" class="t">1</text>
<text x="353.60" y="11.80" text-anchor="end" class="t">2</text>
<text x="477.50" y="248.60" text-anchor="middle" class="s" font-size="12.6" textLength="7.4" lengthAdjust="spacingAndGlyphs" stroke="#1a1a1a" stroke-width="0.3">A</text>
<g transform="translate(331.20 117.55) rotate(-90)"><path d="M0.30 -0.46L0.30 -0.30L2.82 -0.30L2.82 -1.04C1.18 -2.02 0.57 -3.42 0.57 -4.97C0.57 -7.11 1.93 -8.50 3.70 -8.50C5.47 -8.50 6.83 -7.11 6.83 -4.97C6.83 -3.42 6.22 -2.02 4.58 -1.04L4.58 -0.30L7.10 -0.30L7.10 -0.46" fill="none" stroke="#1a1a1a" stroke-width="1.15" stroke-linejoin="round"/><text x="9.9" y="3.0" class="s" font-size="9.5" font-style="italic" stroke="#1a1a1a" stroke-width="0.3">κ</text></g>
<path d="M513.10 46.94L513.10 47.10L515.80 47.10L515.80 46.36C514.05 45.38 513.39 43.98 513.39 42.43C513.39 40.29 514.85 38.90 516.75 38.90C518.65 38.90 520.11 40.29 520.11 42.43C520.11 43.98 519.45 45.38 517.70 46.36L517.70 47.10L520.40 47.10L520.40 46.94" fill="none" stroke="#1a1a1a" stroke-width="1.15" stroke-linejoin="round"/>
<text x="522.00" y="50.60" class="s" font-size="9.2" textLength="5.9" lengthAdjust="spacingAndGlyphs" stroke="#1a1a1a" stroke-width="0.35">M</text>
<text x="529.50" y="47.40" class="t" font-size="12.2" textLength="7.6" lengthAdjust="spacingAndGlyphs">=</text>
<text x="538.80" y="47.40" class="t" font-size="12.2" textLength="18.2" lengthAdjust="spacingAndGlyphs">0.1</text>
<text x="553.70" y="106.20" class="m" textLength="23.2" lengthAdjust="spacingAndGlyphs">x=1.0</text>
<text x="553.70" y="115.20" class="m" textLength="23.2" lengthAdjust="spacingAndGlyphs">x=0.8</text>
<text x="553.70" y="127.20" class="m" textLength="23.2" lengthAdjust="spacingAndGlyphs">x=0.6</text>
<text x="553.70" y="152.20" class="m" textLength="23.2" lengthAdjust="spacingAndGlyphs">x=0.4</text>
<text x="514.30" y="194.40" class="m" textLength="23.2" lengthAdjust="spacingAndGlyphs">x=0.2</text>
<clipPath id="c2"><rect x="212.30" y="272.00" width="238.00" height="211.80"/></clipPath>
<g clip-path="url(#c2)">
<line x1="212.30" y1="342.60" x2="450.30" y2="342.60" stroke="#222" stroke-width="1.25"/>
<path d="M212.30 289.54 C213.68 290.64 217.86 293.94 220.59 296.16 C223.32 298.38 226.00 300.70 228.68 302.87 C231.36 305.04 233.96 307.02 236.67 309.19 C239.38 311.36 242.21 313.68 244.96 315.90 C247.71 318.13 250.44 320.38 253.15 322.52 C255.86 324.66 258.49 326.68 261.24 328.73 C263.98 330.79 267.55 333.33 269.63 334.85 C271.71 336.37 268.41 334.11 273.72 337.86 C279.03 341.60 292.23 350.82 301.49 357.30 C310.74 363.78 321.70 371.62 329.25 376.75 C336.81 381.88 340.97 384.32 346.83 388.07 C352.69 391.83 359.31 396.09 364.41 399.30 C369.50 402.51 373.76 405.01 377.39 407.32 C381.02 409.62 383.30 411.20 386.18 413.13 C389.06 415.07 391.84 416.99 394.67 418.95 C397.50 420.90 400.36 422.82 403.16 424.86 C405.96 426.90 409.40 429.52 411.45 431.18 C413.50 432.83 414.15 433.56 415.44 434.78 C416.74 436.00 418.19 437.14 419.24 438.49 C420.29 439.85 421.37 441.62 421.74 442.90 C422.10 444.19 421.85 445.34 421.44 446.21 C421.02 447.08 420.15 447.65 419.24 448.12 C418.32 448.58 417.24 448.87 415.94 449.02 C414.64 449.17 413.11 449.17 411.45 449.02 C409.78 448.87 407.70 448.45 405.96 448.12 C404.21 447.78 402.63 447.50 400.96 447.01 C399.30 446.53 397.57 445.79 395.97 445.21 C394.37 444.62 392.96 444.12 391.37 443.50 C389.79 442.89 388.06 442.20 386.48 441.50 C384.90 440.80 383.50 440.00 381.89 439.29 C380.27 438.59 378.37 438.04 376.79 437.29 C375.21 436.54 373.95 435.62 372.40 434.78 C370.85 433.95 369.07 433.11 367.50 432.28 C365.94 431.44 364.51 430.66 363.01 429.77 C361.51 428.89 359.98 427.85 358.52 426.97 C357.05 426.08 355.69 425.30 354.22 424.46 C352.76 423.62 351.22 422.82 349.73 421.95 C348.23 421.09 346.73 420.22 345.23 419.25 C343.73 418.28 342.20 417.11 340.74 416.14 C339.27 415.17 337.91 414.42 336.44 413.43 C334.98 412.45 333.40 411.20 331.95 410.23 C330.50 409.26 329.15 408.59 327.75 407.62 C326.36 406.65 324.97 405.45 323.56 404.41 C322.14 403.38 320.66 402.37 319.27 401.41 C317.87 400.44 316.55 399.57 315.17 398.60 C313.79 397.63 315.05 398.82 310.98 395.59 C306.90 392.37 297.46 384.70 290.70 379.25 C283.94 373.81 274.44 366.06 270.43 362.91 C266.42 359.77 267.93 361.46 266.63 360.41 C265.33 359.36 264.00 357.85 262.64 356.60 C261.27 355.35 259.77 354.06 258.44 352.89 C257.11 351.72 255.98 350.69 254.65 349.58 C253.31 348.48 251.78 347.39 250.45 346.28 C249.12 345.16 247.91 343.99 246.66 342.87 C245.41 341.75 244.24 340.66 242.96 339.56 C241.68 338.46 240.26 337.42 238.97 336.25 C237.67 335.08 237.05 334.35 235.17 332.54 C233.29 330.74 229.56 327.31 227.68 325.43 C225.80 323.54 225.12 322.47 223.89 321.22 C222.65 319.96 221.54 319.04 220.29 317.91 C219.04 316.77 217.73 315.59 216.39 314.40 C215.06 313.21 212.98 311.39 212.30 310.79" fill="none" stroke="#00ffff" stroke-width="1.15" stroke-dasharray="1.25 3.94" stroke-dashoffset="-0.3" stroke-opacity="0.82"/>
<path d="M212.30 291.75 C213.68 292.82 217.86 295.97 220.59 298.16 C223.32 300.35 226.00 302.76 228.68 304.88 C231.36 307.00 233.96 308.72 236.67 310.89 C239.38 313.06 242.21 315.69 244.96 317.91 C247.71 320.13 251.08 322.55 253.15 324.22 C255.21 325.89 255.30 326.34 257.34 327.93 C259.39 329.52 259.12 329.29 265.43 333.75 C271.74 338.21 285.26 347.73 295.20 354.70 C305.13 361.66 318.67 371.15 325.06 375.54 C331.45 379.94 330.68 379.10 333.55 381.06 C336.41 383.01 339.29 385.35 342.24 387.27 C345.18 389.19 348.30 390.78 351.22 392.58 C354.15 394.39 356.93 396.21 359.81 398.10 C362.69 399.99 365.59 402.02 368.50 403.91 C371.42 405.80 374.36 407.54 377.29 409.42 C380.22 411.31 383.90 413.73 386.08 415.24 C388.26 416.74 388.91 417.41 390.38 418.45 C391.84 419.48 393.39 420.45 394.87 421.45 C396.35 422.46 397.85 423.41 399.26 424.46 C400.68 425.51 402.11 426.65 403.36 427.77 C404.61 428.89 405.62 429.94 406.75 431.18 C407.89 432.41 409.27 433.80 410.15 435.19 C411.03 436.57 411.87 438.31 412.05 439.50 C412.23 440.68 412.21 441.68 411.25 442.30 C410.28 442.92 407.95 443.14 406.26 443.20 C404.56 443.27 402.78 442.99 401.06 442.70 C399.35 442.42 397.63 441.93 395.97 441.50 C394.30 441.07 392.67 440.61 391.07 440.10 C389.48 439.58 387.98 439.03 386.38 438.39 C384.78 437.76 383.10 437.01 381.49 436.29 C379.87 435.57 378.27 434.82 376.69 434.08 C375.11 433.35 373.55 432.68 372.00 431.88 C370.45 431.08 368.95 430.11 367.40 429.27 C365.86 428.44 364.23 427.70 362.71 426.87 C361.20 426.03 359.80 425.11 358.32 424.26 C356.83 423.41 355.32 422.59 353.82 421.75 C352.32 420.92 350.83 420.18 349.33 419.25 C347.83 418.31 346.30 417.11 344.83 416.14 C343.37 415.17 342.00 414.35 340.54 413.43 C339.07 412.52 337.48 411.60 336.04 410.63 C334.61 409.66 333.33 408.59 331.95 407.62 C330.57 406.65 329.17 405.85 327.75 404.81 C326.34 403.78 324.92 402.44 323.46 401.41 C322.00 400.37 320.41 399.57 318.97 398.60 C317.52 397.63 316.15 396.64 314.77 395.59 C313.39 394.54 314.72 395.54 310.68 392.28 C306.63 389.03 297.21 381.44 290.50 376.05 C283.79 370.65 275.07 363.77 270.43 359.91 C265.78 356.05 265.27 355.16 262.64 352.89 C260.01 350.62 256.68 347.95 254.65 346.28 C252.62 344.60 251.78 344.04 250.45 342.87 C249.12 341.70 247.91 340.36 246.66 339.26 C245.41 338.16 244.14 337.32 242.96 336.25 C241.78 335.18 240.76 334.01 239.57 332.84 C238.37 331.67 237.07 330.45 235.77 329.24 C234.47 328.02 233.07 326.75 231.78 325.53 C230.48 324.31 229.26 323.07 227.98 321.92 C226.70 320.77 225.40 319.80 224.09 318.61 C222.77 317.42 221.39 316.00 220.09 314.80 C218.79 313.60 217.59 312.46 216.29 311.39 C215.00 310.32 212.97 308.89 212.30 308.39" fill="none" stroke="#2222ff" stroke-width="1.15" stroke-dasharray="1.25 3.94" stroke-dashoffset="-0.3" stroke-opacity="0.82"/>
<path d="M226.38 310.89 C227.16 311.23 229.54 312.14 231.08 312.90 C232.61 313.65 234.14 314.43 235.57 315.40 C237.00 316.37 238.28 317.61 239.67 318.71 C241.05 319.81 242.48 320.98 243.86 322.02 C245.24 323.05 246.52 323.94 247.96 324.92 C249.39 325.91 251.00 326.88 252.45 327.93 C253.90 328.98 250.64 326.95 256.64 331.24 C262.65 335.53 277.90 346.23 288.50 353.69 C299.11 361.16 313.52 371.37 320.26 376.05 C327.01 380.72 326.07 379.89 328.95 381.76 C331.83 383.63 335.38 385.85 337.54 387.27 C339.71 388.69 340.49 389.31 341.94 390.28 C343.38 391.25 344.80 392.12 346.23 393.09 C347.66 394.05 349.03 395.06 350.53 396.09 C352.02 397.13 353.76 398.33 355.22 399.30 C356.68 400.27 357.88 400.99 359.31 401.91 C360.75 402.83 362.36 403.83 363.81 404.81 C365.26 405.80 366.56 406.85 368.00 407.82 C369.45 408.79 371.07 409.69 372.50 410.63 C373.93 411.56 375.21 412.41 376.59 413.43 C377.97 414.45 379.46 415.62 380.79 416.74 C382.12 417.86 383.32 419.00 384.58 420.15 C385.85 421.30 387.28 422.54 388.38 423.66 C389.48 424.78 390.71 425.90 391.17 426.87 C391.64 427.83 391.86 428.85 391.17 429.47 C390.49 430.09 388.59 430.52 387.08 430.57 C385.56 430.62 383.75 430.12 382.09 429.77 C380.42 429.42 378.72 429.02 377.09 428.47 C375.46 427.92 373.90 427.22 372.30 426.46 C370.70 425.71 369.12 424.74 367.50 423.96 C365.89 423.17 364.14 422.54 362.61 421.75 C361.08 420.97 359.78 420.08 358.32 419.25 C356.85 418.41 355.32 417.58 353.82 416.74 C352.32 415.91 350.83 415.17 349.33 414.24 C347.83 413.30 346.30 412.06 344.83 411.13 C343.37 410.19 341.97 409.49 340.54 408.62 C339.11 407.75 337.68 406.83 336.24 405.92 C334.81 405.00 333.40 404.05 331.95 403.11 C330.50 402.17 328.95 401.34 327.55 400.30 C326.16 399.27 324.94 397.90 323.56 396.89 C322.18 395.89 320.73 395.29 319.27 394.29 C317.80 393.29 316.20 391.97 314.77 390.88 C313.34 389.79 314.09 390.46 310.68 387.77 C307.26 385.08 299.76 379.10 294.30 374.74 C288.84 370.38 281.90 364.89 277.92 361.61 C273.94 358.34 272.31 356.77 270.43 355.10 C268.55 353.43 267.93 352.79 266.63 351.59 C265.33 350.39 263.95 349.05 262.64 347.88 C261.32 346.71 260.02 345.67 258.74 344.57 C257.46 343.47 256.18 342.43 254.95 341.26 C253.71 340.09 253.27 339.51 251.35 337.55 C249.44 335.60 245.96 332.09 243.46 329.54 C240.96 326.98 238.72 324.64 236.37 322.22 C234.02 319.80 230.99 316.64 229.38 315.00 C227.76 313.36 227.18 313.08 226.68 312.40 C226.18 311.71 226.43 311.14 226.38 310.89" fill="none" stroke="#ff2222" stroke-width="1.15" stroke-dasharray="1.25 3.94" stroke-dashoffset="-0.3" stroke-opacity="0.82"/>
<path d="M212.30 317.89 C225.52 326.13 265.19 354.37 291.63 367.31 C318.08 380.25 344.52 388.20 370.97 395.55 C397.41 402.90 437.08 408.79 450.30 411.44" fill="none" stroke="#ff00ff" stroke-width="1.0"/>
<path d="M212.30 322.13 C225.52 330.83 265.19 359.78 291.63 374.37 C318.08 388.96 344.52 400.55 370.97 409.67 C397.41 418.79 437.08 425.85 450.30 429.09" fill="none" stroke="#ff00ff" stroke-width="1.0"/>
<path d="M212.30 331.30 C220.67 337.75 249.30 360.40 262.52 369.99 C275.74 379.58 275.42 379.76 291.63 388.84 C307.84 397.93 341.27 415.55 359.78 424.50 C378.29 433.44 387.61 436.54 402.70 442.50 C417.79 448.46 442.37 457.30 450.30 460.25" fill="none" stroke="#ff00ff" stroke-width="1.0"/>
<path d="M212.30 351.99 C215.75 354.99 219.14 358.45 233.01 369.99 C246.88 381.54 274.39 405.28 295.52 421.25 C316.65 437.22 344.61 455.37 359.78 465.80 C374.95 476.22 376.72 477.27 386.52 483.80 C396.31 490.33 413.22 501.45 418.57 504.98" fill="none" stroke="#ff00ff" stroke-width="1.0"/>
<path d="M212.30 419.91 C216.58 425.14 229.15 440.68 238.00 451.32 C246.86 461.97 256.52 473.39 265.45 483.80 C274.39 494.21 287.27 508.80 291.63 513.80" fill="none" stroke="#ff00ff" stroke-width="1.0"/>
<path d="M212.30 307.30 C213.62 308.19 217.59 310.94 220.23 312.67 C222.88 314.39 225.22 315.89 228.17 317.64 C231.12 319.40 233.96 321.10 237.92 323.19 C241.89 325.27 247.78 328.20 251.97 330.17 C256.16 332.15 259.77 333.66 263.07 335.01 C266.38 336.36 269.02 337.33 271.80 338.29 C274.58 339.25 277.49 340.12 279.73 340.76 C281.98 341.41 283.70 341.87 285.29 342.18 C286.87 342.48 287.53 342.52 289.25 342.60 C290.97 342.68 292.56 342.62 295.60 342.67 C298.64 342.72 302.74 342.74 307.50 342.88 C312.26 343.02 317.28 343.11 324.16 343.52 C331.04 343.92 340.42 344.52 348.75 345.32 C357.08 346.12 365.81 347.17 374.14 348.32 C382.47 349.47 390.40 350.72 398.73 352.24 C407.06 353.75 415.53 355.52 424.12 357.43 C432.71 359.33 445.94 362.63 450.30 363.67" fill="none" stroke="#111" stroke-width="0.95"/>
</g>
<circle cx="264.26" cy="342.60" r="2.7" fill="#ff0000"/>
<path d="M322.96 390.61H334.56M328.76 384.81V396.41" stroke="#ff5050" stroke-width="1.25" fill="none"/>
<path d="M212.30 483.80V476.20M212.30 272.00V279.60M220.23 483.80V480.80M220.23 272.00V275.00M228.17 483.80V480.80M228.17 272.00V275.00M236.10 483.80V480.80M236.10 272.00V275.00M244.03 483.80V480.80M244.03 272.00V275.00M251.97 483.80V476.20M251.97 272.00V279.60M259.90 483.80V480.80M259.90 272.00V275.00M267.83 483.80V480.80M267.83 272.00V275.00M275.77 483.80V480.80M275.77 272.00V275.00M283.70 483.80V480.80M283.70 272.00V275.00M291.63 483.80V476.20M291.63 272.00V279.60M299.57 483.80V480.80M299.57 272.00V275.00M307.50 483.80V480.80M307.50 272.00V275.00M315.43 483.80V480.80M315.43 272.00V275.00M323.37 483.80V480.80M323.37 272.00V275.00M331.30 483.80V476.20M331.30 272.00V279.60M339.23 483.80V480.80M339.23 272.00V275.00M347.17 483.80V480.80M347.17 272.00V275.00M355.10 483.80V480.80M355.10 272.00V275.00M363.03 483.80V480.80M363.03 272.00V275.00M370.97 483.80V476.20M370.97 272.00V279.60M378.90 483.80V480.80M378.90 272.00V275.00M386.83 483.80V480.80M386.83 272.00V275.00M394.77 483.80V480.80M394.77 272.00V275.00M402.70 483.80V480.80M402.70 272.00V275.00M410.63 483.80V476.20M410.63 272.00V279.60M418.57 483.80V480.80M418.57 272.00V275.00M426.50 483.80V480.80M426.50 272.00V275.00M434.43 483.80V480.80M434.43 272.00V275.00M442.37 483.80V480.80M442.37 272.00V275.00M450.30 483.80V476.20M450.30 272.00V279.60M212.30 483.80H219.90M450.30 483.80H442.70M212.30 476.74H215.30M450.30 476.74H447.30M212.30 469.68H215.30M450.30 469.68H447.30M212.30 462.62H215.30M450.30 462.62H447.30M212.30 455.56H215.30M450.30 455.56H447.30M212.30 448.50H219.90M450.30 448.50H442.70M212.30 441.44H215.30M450.30 441.44H447.30M212.30 434.38H215.30M450.30 434.38H447.30M212.30 427.32H215.30M450.30 427.32H447.30M212.30 420.26H215.30M450.30 420.26H447.30M212.30 413.20H219.90M450.30 413.20H442.70M212.30 406.14H215.30M450.30 406.14H447.30M212.30 399.08H215.30M450.30 399.08H447.30M212.30 392.02H215.30M450.30 392.02H447.30M212.30 384.96H215.30M450.30 384.96H447.30M212.30 377.90H219.90M450.30 377.90H442.70M212.30 370.84H215.30M450.30 370.84H447.30M212.30 363.78H215.30M450.30 363.78H447.30M212.30 356.72H215.30M450.30 356.72H447.30M212.30 349.66H215.30M450.30 349.66H447.30M212.30 342.60H219.90M450.30 342.60H442.70M212.30 335.54H215.30M450.30 335.54H447.30M212.30 328.48H215.30M450.30 328.48H447.30M212.30 321.42H215.30M450.30 321.42H447.30M212.30 314.36H215.30M450.30 314.36H447.30M212.30 307.30H219.90M450.30 307.30H442.70M212.30 300.24H215.30M450.30 300.24H447.30M212.30 293.18H215.30M450.30 293.18H447.30M212.30 286.12H215.30M450.30 286.12H447.30M212.30 279.06H215.30M450.30 279.06H447.30M212.30 272.00H219.90M450.30 272.00H442.70" stroke="#222" stroke-width="0.9" fill="none"/>
<rect x="212.30" y="272.00" width="238.00" height="211.80" fill="none" stroke="#1a1a1a" stroke-width="1.1"/>
<text x="212.30" y="497.70" text-anchor="middle" class="t" textLength="16" lengthAdjust="spacingAndGlyphs">0.0</text>
<text x="251.97" y="497.70" text-anchor="middle" class="t" textLength="16" lengthAdjust="spacingAndGlyphs">0.5</text>
<text x="291.63" y="497.70" text-anchor="middle" class="t" textLength="16" lengthAdjust="spacingAndGlyphs">1.0</text>
<text x="331.30" y="497.70" text-anchor="middle" class="t" textLength="16" lengthAdjust="spacingAndGlyphs">1.5</text>
<text x="370.97" y="497.70" text-anchor="middle" class="t" textLength="16" lengthAdjust="spacingAndGlyphs">2.0</text>
<text x="410.63" y="497.70" text-anchor="middle" class="t" textLength="16" lengthAdjust="spacingAndGlyphs">2.5</text>
<text x="450.30" y="497.70" text-anchor="middle" class="t" textLength="16" lengthAdjust="spacingAndGlyphs">3.0</text>
<text x="207.30" y="489.30" text-anchor="end" class="t">4</text>
<path d="M193.70 485.60H200.90" stroke="#222" stroke-width="0.9"/>
<text x="207.30" y="452.80" text-anchor="end" class="t">3</text>
<path d="M193.70 449.10H200.90" stroke="#222" stroke-width="0.9"/>
<text x="207.30" y="417.50" text-anchor="end" class="t">2</text>
<path d="M193.70 413.80H200.90" stroke="#222" stroke-width="0.9"/>
<text x="207.30" y="382.20" text-anchor="end" class="t">1</text>
<path d="M193.70 378.50H200.90" stroke="#222" stroke-width="0.9"/>
<text x="207.70" y="346.90" text-anchor="end" class="t">0</text>
<text x="207.70" y="311.60" text-anchor="end" class="t">1</text>
<text x="207.70" y="276.30" text-anchor="end" class="t">2</text>
<text x="331.50" y="513.60" text-anchor="middle" class="s" font-size="12.6" textLength="7.4" lengthAdjust="spacingAndGlyphs" stroke="#1a1a1a" stroke-width="0.3">A</text>
<g transform="translate(185.30 382.30) rotate(-90)"><path d="M0.30 -0.46L0.30 -0.30L2.82 -0.30L2.82 -1.04C1.18 -2.02 0.57 -3.42 0.57 -4.97C0.57 -7.11 1.93 -8.50 3.70 -8.50C5.47 -8.50 6.83 -7.11 6.83 -4.97C6.83 -3.42 6.22 -2.02 4.58 -1.04L4.58 -0.30L7.10 -0.30L7.10 -0.46" fill="none" stroke="#1a1a1a" stroke-width="1.15" stroke-linejoin="round"/><text x="9.9" y="3.0" class="s" font-size="9.5" font-style="italic" stroke="#1a1a1a" stroke-width="0.3">κ</text></g>
<path d="M367.20 311.44L367.20 311.60L369.90 311.60L369.90 310.86C368.15 309.88 367.49 308.48 367.49 306.93C367.49 304.79 368.95 303.40 370.85 303.40C372.75 303.40 374.21 304.79 374.21 306.93C374.21 308.48 373.55 309.88 371.80 310.86L371.80 311.60L374.50 311.60L374.50 311.44" fill="none" stroke="#1a1a1a" stroke-width="1.15" stroke-linejoin="round"/>
<text x="376.10" y="315.10" class="s" font-size="9.2" textLength="5.9" lengthAdjust="spacingAndGlyphs" stroke="#1a1a1a" stroke-width="0.35">M</text>
<text x="383.60" y="311.90" class="t" font-size="12.2" textLength="7.6" lengthAdjust="spacingAndGlyphs">=</text>
<text x="392.90" y="311.90" class="t" font-size="12.2" textLength="18.2" lengthAdjust="spacingAndGlyphs">0.3</text>
<text x="424.30" y="404.30" class="m" textLength="23.2" lengthAdjust="spacingAndGlyphs">x=1.0</text>
<text x="424.30" y="420.20" class="m" textLength="23.2" lengthAdjust="spacingAndGlyphs">x=0.8</text>
<text x="424.30" y="448.30" class="m" textLength="23.2" lengthAdjust="spacingAndGlyphs">x=0.6</text>
<text x="384.20" y="473.60" class="m" textLength="23.2" lengthAdjust="spacingAndGlyphs">x=0.4</text>
<text x="261.20" y="473.60" class="m" textLength="23.2" lengthAdjust="spacingAndGlyphs">x=0.2</text>
</svg></body></html>
